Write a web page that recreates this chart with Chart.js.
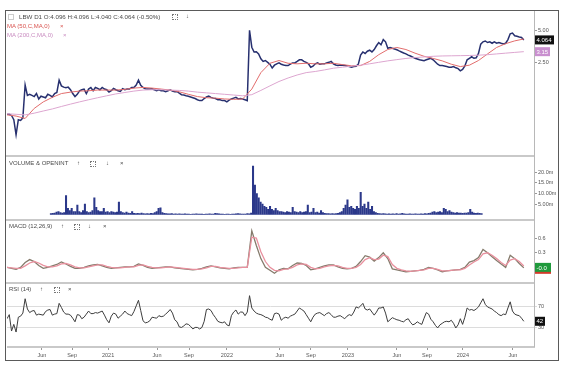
<!DOCTYPE html>
<html>
<head>
<meta charset="utf-8">
<script src="https://cdn.jsdelivr.net/npm/chart.js@4.4.1/dist/chart.umd.min.js"></script>
<style>
  html, body { margin: 0; padding: 0; background: #fff; }
  body { width: 564px; height: 365px; position: relative; overflow: hidden; font-family: "Liberation Sans", Arial, sans-serif; }
  .frame { position: absolute; left: 5px; top: 10px; width: 552px; height: 349px; border: 1px solid #5a5a5a; }
  canvas { position: absolute; }
  .sep { position: absolute; left: 6px; width: 528px; height: 2px; background: #c9c9c9; }
  .vline { position: absolute; left: 534px; top: 11px; width: 1px; height: 336px; background: #b8b8b8; }
  .t { position: absolute; font-size: 6px; line-height: 7px; color: #4a4a4a; white-space: nowrap; }
  .ic { position: absolute; width: 4px; height: 4px; border: 1px dotted #777; }
</style>
</head>
<body>
<div class="frame"></div>
<canvas id="cPrice" width="551" height="144" style="left:7px;top:11px"></canvas>
<canvas id="cVol" width="551" height="62" style="left:7px;top:157px"></canvas>
<canvas id="cMacd" width="551" height="61" style="left:7px;top:221px"></canvas>
<canvas id="cRsi" width="551" height="77" style="left:7px;top:284px"></canvas>
<div class="sep" style="top:155px"></div>
<div class="sep" style="top:219px"></div>
<div class="sep" style="top:282px"></div>
<div class="vline"></div>

<!-- panel headers -->
<div class="ic" style="left:8px;top:14px;border:1px solid #ccc"></div>
<div class="t" style="left:19px;top:13px;font-size:6.2px">LBW D1 O:4.096 H:4.096 L:4.040 C:4.064 (-0.50%)</div>
<div class="ic" style="left:172px;top:14px"></div>
<div class="t" style="left:186px;top:13px">↓</div>
<div class="t" style="left:7px;top:23px;color:#d9534f">MA (50,C,MA,0)</div>
<div class="t" style="left:60px;top:23px;color:#d9534f">×</div>
<div class="t" style="left:7px;top:32px;color:#c98cc0">MA (200,C,MA,0)</div>
<div class="t" style="left:63px;top:32px;color:#c98cc0">×</div>

<div class="t" style="left:9px;top:160px">VOLUME &amp; OPENINT</div>
<div class="t" style="left:77px;top:160px">↑</div>
<div class="ic" style="left:90px;top:161px"></div>
<div class="t" style="left:106px;top:160px">↓</div>
<div class="t" style="left:120px;top:160px">×</div>

<div class="t" style="left:9px;top:223px">MACD (12,26,9)</div>
<div class="t" style="left:61px;top:223px">↑</div>
<div class="ic" style="left:74px;top:224px"></div>
<div class="t" style="left:88px;top:223px">↓</div>
<div class="t" style="left:103px;top:223px">×</div>

<div class="t" style="left:9px;top:286px">RSI (14)</div>
<div class="t" style="left:40px;top:286px">↑</div>
<div class="ic" style="left:54px;top:287px"></div>
<div class="t" style="left:68px;top:286px">×</div>

<script>
// weekly bars, week 0 = late Feb 2020
const X_MAX = 232.5;
const MA_STEP = 4;     // moving averages read every 4 weeks
const MACD_STEP = 2;   // macd / signal read every 2 weeks

const price = [
  0.81,0.81,0.79,0.72,0.52,0.72,0.71,0.75,1.53,1.22,
  1.25,1.22,1.19,1.27,1.13,1.20,1.18,1.16,1.25,1.22,
  1.18,1.27,1.30,1.70,1.50,1.46,1.44,1.46,1.38,1.27,
  1.19,1.25,1.35,1.38,1.40,1.27,1.40,1.45,1.35,1.45,
  1.42,1.38,1.45,1.40,1.38,1.31,1.35,1.42,1.38,1.35,
  1.33,1.41,1.38,1.40,1.40,1.45,1.45,1.53,1.70,1.52,
  1.45,1.41,1.40,1.40,1.41,1.38,1.35,1.38,1.35,1.35,
  1.32,1.35,1.38,1.34,1.32,1.33,1.28,1.24,1.23,1.21,
  1.20,1.18,1.16,1.14,1.11,1.09,1.09,1.14,1.18,1.20,
  1.17,1.15,1.14,1.11,1.11,1.09,1.09,1.06,1.10,1.13,
  1.15,1.17,1.13,1.14,1.13,1.11,1.09,5.00,3.47,3.13,
  3.15,3.00,2.70,2.55,2.60,2.50,2.40,2.21,2.35,2.42,
  2.47,2.40,2.36,2.33,2.33,2.40,2.47,2.47,2.55,2.64,
  2.64,2.55,2.50,2.42,2.25,2.30,2.42,2.47,2.40,2.42,
  2.42,2.47,2.50,2.55,2.42,2.36,2.33,2.36,2.35,2.33,
  2.31,2.28,2.25,2.28,2.30,2.40,2.92,3.13,3.03,3.18,
  3.25,3.13,3.30,3.58,3.84,3.66,4.09,3.90,3.39,3.45,
  3.39,3.34,3.28,3.20,3.13,3.06,3.00,2.92,2.87,2.80,
  2.73,2.69,2.64,2.62,2.59,2.64,2.69,2.73,2.64,2.52,
  2.40,2.33,2.33,2.31,2.28,2.25,2.25,2.28,2.22,2.18,
  2.08,2.14,2.31,2.64,2.73,2.82,2.73,2.76,3.03,3.71,
  3.90,3.97,3.84,3.90,3.78,3.90,3.78,3.84,3.78,3.73,
  3.78,4.09,4.64,4.72,4.45,4.40,4.33,4.28,4.06
];
const ma50 = [
  0.80,0.78,0.74,0.92,1.06,1.17,1.27,1.31,1.34,1.35,
  1.37,1.37,1.37,1.39,1.43,1.45,1.43,1.40,1.37,1.32,
  1.25,1.19,1.16,1.15,1.13,1.12,1.13,1.40,2.00,2.45,
  2.60,2.45,2.42,2.45,2.42,2.42,2.45,2.38,2.32,2.33,
  2.55,2.95,3.30,3.45,3.30,3.05,2.85,2.72,2.58,2.40,
  2.28,2.35,2.60,3.00,3.45,3.75,3.98,4.15
];
const ma200 = [
  0.82,0.81,0.80,0.83,0.87,0.91,0.96,1.01,1.06,1.11,
  1.16,1.21,1.26,1.30,1.34,1.37,1.38,1.38,1.37,1.36,
  1.34,1.31,1.29,1.27,1.25,1.23,1.21,1.24,1.36,1.50,
  1.65,1.78,1.90,2.00,2.05,2.12,2.20,2.25,2.30,2.35,
  2.42,2.50,2.58,2.65,2.72,2.77,2.81,2.85,2.87,2.88,
  2.89,2.90,2.92,2.95,3.00,3.05,3.10,3.15
];
// volume, millions
const volume = [
  0.5,0.6,0.8,1.2,1.5,1.0,0.8,1.0,9.0,3.0,
  2.0,3.0,1.5,1.5,4.5,1.5,1.0,2.0,5.0,1.5,
  1.0,1.2,2.0,8.0,3.5,2.0,1.5,1.5,3.0,1.2,
  1.5,1.0,1.5,1.2,1.0,1.2,6.0,1.5,1.0,0.8,
  1.2,0.8,0.6,1.5,0.6,0.5,0.6,0.5,0.8,0.5,
  0.4,0.5,0.4,0.6,0.5,1.0,1.5,3.0,3.2,1.0,
  0.6,0.5,0.4,0.4,0.5,0.3,0.4,0.3,0.4,0.3,
  0.3,0.4,0.3,0.3,0.2,0.3,0.3,0.4,0.3,0.3,
  0.3,0.2,0.3,0.3,0.4,0.3,0.3,0.6,0.5,0.4,
  0.3,0.3,0.2,0.3,0.3,0.2,0.3,0.3,0.4,0.5,
  0.4,0.3,0.3,0.3,0.5,0.4,0.8,23.0,14.0,10.0,
  8.0,6.0,5.0,4.0,3.5,2.5,4.0,2.5,2.0,3.0,
  2.0,1.5,1.5,1.2,1.0,1.5,1.2,1.0,3.5,1.5,
  1.2,1.0,1.5,1.0,1.2,1.5,4.5,1.0,1.2,3.0,
  1.0,1.2,0.8,2.0,1.0,0.6,0.5,0.5,0.4,0.5,
  0.4,0.5,0.6,1.0,1.5,3.0,4.5,7.0,3.5,4.0,
  3.0,2.5,4.0,3.0,10.5,4.0,5.0,3.0,6.0,2.5,
  4.0,1.5,1.0,0.6,0.5,0.4,0.5,0.4,0.3,0.4,
  0.3,0.4,0.3,0.5,0.3,0.4,0.6,0.4,0.3,0.3,
  0.4,0.3,0.3,0.4,0.3,0.3,0.4,0.3,0.5,0.4,
  0.6,0.8,1.2,1.5,1.0,1.2,1.5,1.0,3.0,2.5,
  1.5,2.0,1.2,1.0,0.8,1.0,0.8,0.8,0.7,0.8,
  0.8,1.0,2.5,1.2,0.8,0.7,0.8,0.6,0.5
];
const macd = [
  0.00,-0.02,-0.04,0.00,0.10,0.16,0.12,0.04,-0.02,0.00,
  0.03,0.06,0.11,0.07,0.02,-0.02,-0.02,0.00,0.03,0.05,
  0.06,0.03,0.00,-0.02,-0.01,0.00,0.01,0.01,0.02,0.07,
  0.04,0.00,-0.02,-0.01,0.00,0.01,0.01,-0.01,-0.02,-0.03,
  -0.04,-0.05,-0.04,-0.02,0.01,0.03,0.01,-0.01,-0.02,-0.03,
  -0.01,0.00,0.00,0.00,0.75,0.45,0.18,0.00,-0.06,-0.12,
  -0.05,-0.02,-0.03,0.04,0.09,0.08,0.04,-0.05,-0.03,0.00,
  0.03,0.05,0.05,0.01,-0.02,-0.03,-0.02,0.02,0.12,0.24,
  0.21,0.13,0.20,0.30,0.18,-0.03,-0.05,-0.07,-0.09,-0.08,
  -0.07,-0.06,-0.04,0.00,-0.02,-0.05,-0.09,-0.07,-0.06,-0.05,
  -0.04,0.00,0.11,0.14,0.20,0.37,0.30,0.22,0.14,0.07,
  0.00,0.25,0.18,0.08,-0.01
];
const signal = [
  0.00,-0.01,-0.02,-0.02,0.03,0.09,0.12,0.09,0.04,0.01,
  0.01,0.03,0.07,0.08,0.05,0.01,-0.01,-0.01,0.01,0.03,
  0.05,0.05,0.02,0.00,-0.01,-0.01,0.00,0.01,0.01,0.04,
  0.05,0.02,0.00,-0.01,-0.01,0.00,0.01,0.00,-0.01,-0.02,
  -0.03,-0.04,-0.04,-0.03,-0.01,0.02,0.02,0.00,-0.01,-0.02,
  -0.02,-0.01,0.00,0.00,0.62,0.60,0.32,0.12,0.00,-0.06,
  -0.07,-0.04,-0.03,0.00,0.05,0.07,0.06,0.00,-0.03,-0.02,
  0.01,0.03,0.04,0.03,0.00,-0.02,-0.02,0.00,0.06,0.16,
  0.20,0.16,0.17,0.25,0.22,0.06,-0.02,-0.05,-0.07,-0.08,
  -0.07,-0.06,-0.05,-0.02,-0.02,-0.04,-0.07,-0.07,-0.06,-0.05,
  -0.05,-0.02,0.05,0.11,0.16,0.28,0.30,0.25,0.18,0.10,
  0.04,0.15,0.18,0.12,0.03
];
const rsi = [
  47,55,23,36,21,50,52,58,86,66,
  59,62,63,54,56,55,54,61,64,65,
  54,56,57,77,69,60,56,56,54,48,
  41,55,54,47,50,56,62,57,57,59,
  58,60,62,54,45,39,52,58,56,48,
  52,56,62,57,55,53,61,72,83,63,
  43,39,40,43,50,49,48,53,51,52,
  56,60,65,58,45,41,31,30,33,37,
  36,32,27,30,30,27,30,42,65,66,
  63,55,49,42,40,39,41,35,33,53,
  60,64,56,60,60,53,60,92,68,62,
  58,56,55,53,50,49,46,44,57,58,
  56,44,48,50,48,52,54,56,62,68,
  65,62,55,48,41,50,56,58,59,56,
  53,57,59,55,50,50,52,53,50,47,
  52,55,53,60,70,68,72,77,66,64,
  66,60,54,60,68,68,70,58,41,45,
  49,47,45,44,42,41,45,47,40,35,
  37,41,38,36,48,59,56,46,41,34,
  29,35,38,41,42,41,44,38,29,35,
  47,36,50,68,64,65,63,66,70,78,
  86,75,70,68,66,62,59,55,53,56,
  55,68,80,62,56,54,53,48,42
];

// time axis ticks (week positions) and their labels
const tickWeeks  = [15.4, 28.7, 44.6, 66.2, 80.3, 97.0, 120.4, 134.1, 150.4, 172.0, 185.3, 201.1, 223.2];
const tickLabels = ['Jun','Sep','2021','Jun','Sep','2022','Jun','Sep','2023','Jun','Sep','2024','Jun'];

const priceTicks = [2.5, 5];
const volTicks = [5, 10, 15, 20];
const volTickLabels = ['5.00m', '10.00m', '15.0m', '20.0m'];
const macdTicks = [0.3, 0.6];
const rsiTicks = [30, 70];

const lastClose = 4.064, lastMa200 = 3.15, lastMacd = 0, lastSignal = -0.04, lastRsi = 42;

const FONT = 'Liberation Sans';
Chart.defaults.font.family = FONT;
Chart.defaults.font.size = 5.5;
Chart.defaults.color = '#555';

const pts = (arr, step) => arr.map((v, i) => ({ x: i * step, y: v }));

// value tags drawn at the right axis
const valueBoxes = {
  id: 'valueBoxes',
  afterDraw(chart, args, opts) {
    const ctx = chart.ctx, ys = chart.scales.y, x0 = chart.chartArea.right + 1;
    (opts.boxes || []).forEach(b => {
      const py = ys.getPixelForValue(b.value) + (b.dy || 0);
      ctx.save();
      ctx.fillStyle = b.bg;
      ctx.fillRect(x0, py - 4.5, b.w, 9);
      ctx.fillStyle = b.fg || '#fff';
      ctx.font = '6px ' + FONT;
      ctx.textBaseline = 'middle';
      ctx.fillText(b.text, x0 + 1.5, py + 0.5);
      ctx.restore();
    });
  }
};

function rightAxis(ticks, labelFn, extra) {
  return Object.assign({
    position: 'right',
    afterFit: s => { s.width = 24; },
    afterBuildTicks: s => { s.ticks = ticks.map(v => ({ value: v })); },
    ticks: { callback: labelFn, padding: 1, autoSkip: false, color: '#555', font: { size: 5.5 } },
    grid: { drawOnChartArea: false, tickLength: 3, color: '#999' },
    border: { display: false }
  }, extra);
}

function baseOptions(yScale, boxes, showX) {
  return {
    responsive: false,
    animation: false,
    events: [],
    layout: { padding: 0 },
    plugins: { legend: { display: false }, tooltip: { enabled: false }, valueBoxes: { boxes } },
    scales: {
      x: showX ? {
        type: 'linear', min: 0, max: X_MAX,
        afterFit: s => { s.height = 14; },
        afterBuildTicks: s => { s.ticks = tickWeeks.map(v => ({ value: v })); },
        ticks: { callback: (v, i) => tickLabels[i], padding: 2, maxRotation: 0, autoSkip: false, color: '#555', font: { size: 5.5 } },
        grid: { drawOnChartArea: false, tickLength: 3, color: '#999' },
        border: { color: '#c9c9c9', width: 2 }
      } : { type: 'linear', min: 0, max: X_MAX, display: false },
      y: yScale
    }
  };
}

const lineStyle = (color, width) => ({ borderColor: color, borderWidth: width, pointRadius: 0, tension: 0, fill: false });

new Chart(document.getElementById('cPrice'), {
  type: 'line',
  data: {
    datasets: [
      Object.assign({ data: pts(ma200, MA_STEP) }, lineStyle('#dda6d0', 1)),
      Object.assign({ data: pts(ma50, MA_STEP) }, lineStyle('#e26d6d', 1)),
      Object.assign({ data: pts(price, 1) }, lineStyle('#27306f', 1.5))
    ]
  },
  options: baseOptions(
    rightAxis(priceTicks, v => Number(v).toFixed(2), { type: 'logarithmic', min: 0.368, max: 6.93 }),
    [{ value: lastMa200, text: '3.15', bg: '#c98fcf', w: 15 }, { value: lastClose, text: '4.064', bg: '#111', w: 19 }],
    false),
  plugins: [valueBoxes]
});

new Chart(document.getElementById('cVol'), {
  type: 'bar',
  data: {
    datasets: [{ data: pts(volume, 1), backgroundColor: '#2b388a', barThickness: 1.4 }]
  },
  options: baseOptions(
    rightAxis(volTicks, (v, i) => volTickLabels[i], { min: 0, max: 25.2 }),
    [], false),
  plugins: [valueBoxes]
});

new Chart(document.getElementById('cMacd'), {
  type: 'line',
  data: {
    datasets: [
      Object.assign({ data: pts(signal, MACD_STEP) }, lineStyle('#e8909e', 1.3)),
      Object.assign({ data: pts(macd, MACD_STEP) }, lineStyle('#857b6c', 1.3))
    ]
  },
  options: baseOptions(
    rightAxis(macdTicks, v => Number(v).toFixed(1), { min: -0.212, max: 0.864 }),
    [{ value: lastSignal, text: '', bg: '#d23a2a', w: 16 }, { value: lastMacd, text: '-0.0', bg: '#1f9a3c', w: 16 }],
    false),
  plugins: [valueBoxes]
});

new Chart(document.getElementById('cRsi'), {
  type: 'line',
  data: {
    datasets: [Object.assign({ data: pts(rsi, 1) }, lineStyle('#3d3d3d', 1))]
  },
  options: baseOptions(
    rightAxis(rsiTicks, v => String(v), { min: -8.2, max: 106.4, grid: { drawOnChartArea: true, tickLength: 3, color: '#dcdcdc' } }),
    [{ value: lastRsi, text: '42', bg: '#111', w: 10 }],
    true),
  plugins: [valueBoxes]
});
</script>
</body>
</html>
